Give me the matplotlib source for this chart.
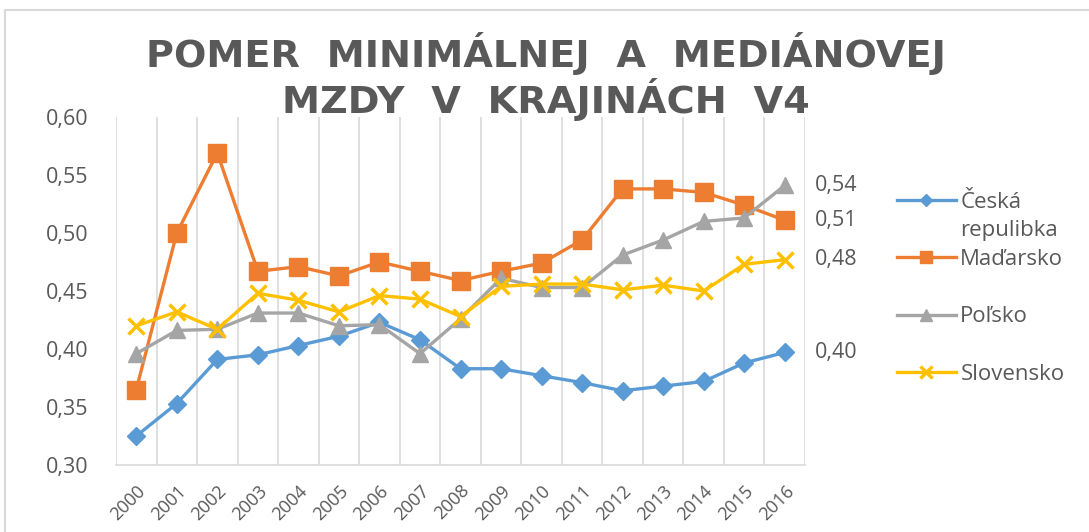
import numpy as np
import matplotlib
matplotlib.use("Agg")
import matplotlib.pyplot as plt
from matplotlib.patches import Rectangle

# ---- data ----
years = [str(y) for y in range(2000, 2017)]
ceska = [0.325, 0.353, 0.391, 0.395, 0.403, 0.411, 0.423, 0.408, 0.383, 0.383,
         0.377, 0.371, 0.364, 0.368, 0.372, 0.388, 0.397]
madarsko = [0.365, 0.500, 0.569, 0.467, 0.471, 0.463, 0.475, 0.467, 0.459, 0.467,
            0.474, 0.494, 0.538, 0.538, 0.535, 0.524, 0.511]
polsko = [0.396, 0.416, 0.417, 0.431, 0.431, 0.420, 0.421, 0.396, 0.426, 0.461,
          0.453, 0.453, 0.481, 0.494, 0.510, 0.513, 0.541]
slovensko = [0.420, 0.432, 0.417, 0.448, 0.442, 0.432, 0.446, 0.443, 0.428, 0.454,
             0.456, 0.456, 0.451, 0.455, 0.450, 0.473, 0.477]
series_names = ["Česká", "Maďarsko", "Poľsko", "Slovensko"]
yticks = [0.30, 0.35, 0.40, 0.45, 0.50, 0.55, 0.60]
title_lines = ["POMER  MINIMÁLNEJ  A  MEDIÁNOVEJ", "MZDY  V  KRAJINÁCH  V4"]

TXT = "#595959"
GRID = "#D9D9D9"
FONT = "Open Sans"

W, H = 1089, 532
fig = plt.figure(figsize=(W / 100, H / 100), dpi=100)
fig.patch.set_facecolor("white")

# outer chart border
fig.add_artist(Rectangle((5 / W, -0.2), 2.0, (H - 10) / H + 0.2,
                         transform=fig.transFigure, fill=False,
                         edgecolor=GRID, lw=1.5))

ax = fig.add_axes([116 / W, 1 - 465 / H, (805 - 116) / W, (465 - 117) / H])
x = np.arange(len(years))

styles = [
    dict(color="#5B9BD5", marker="D", ms=9),
    dict(color="#ED7D31", marker="s", ms=13),
    dict(color="#A5A5A5", marker="^", ms=12),
    dict(color="#FFC000", marker="x", ms=12, mew=2.5),
]
data = [ceska, madarsko, polsko, slovensko]
for vals, name, st in zip(data, series_names, styles):
    ax.plot(x, vals, lw=2.4, label=name, clip_on=False, **st)
    ax.annotate(f"{vals[-1]:.2f}".replace(".", ","), (x[-1], vals[-1]),
                xytext=(22, 0), textcoords="offset points", ha="left",
                va="center", fontsize=15.5, color=TXT, family=FONT,
                annotation_clip=False)

ax.set_xlim(-0.5, len(years) - 0.5)
ax.set_ylim(0.30, 0.60)
ax.set_xticks(x)
ax.set_xticklabels(years, rotation=45, ha="right", rotation_mode="anchor",
                   fontsize=13, color=TXT, family=FONT)
ax.set_xticks(np.arange(-0.5, len(years), 1), minor=True)
ax.set_yticks(yticks)
ax.set_yticklabels([f"{v:.2f}".replace(".", ",") for v in yticks],
                   fontsize=15.5, color=TXT, family=FONT)
ax.tick_params(axis="x", which="both", length=0, pad=12)
ax.tick_params(axis="y", which="both", length=0, pad=20)
ax.grid(False)
ax.grid(which="minor", axis="x", color=GRID, lw=1.2)
ax.set_axisbelow(True)
for s in ["top", "right", "left"]:
    ax.spines[s].set_visible(False)
ax.spines["bottom"].set_color(GRID)
ax.spines["bottom"].set_linewidth(1.2)

leg = ax.legend(loc="upper left", bbox_to_anchor=(897 / W, 1 - 192 / H),
                bbox_transform=fig.transFigure, frameon=False,
                prop={"family": FONT, "size": 16}, labelcolor=TXT,
                handlelength=2.65, handletextpad=0.2, labelspacing=1.63,
                borderpad=0, borderaxespad=0, markerscale=0.7)

for i, t in enumerate(title_lines):
    fig.text(0.501, 1 - (67 + 46 * i) / H, t, ha="center", va="baseline",
             fontsize=27.5, fontweight="bold", color=TXT, family="DejaVu Sans")

# second line of the first legend label
fig.canvas.draw()
bb = leg.texts[0].get_window_extent()
fig.text(bb.x0 / W, (bb.y0 - 28) / H, "repulibka", ha="left",
         va="bottom", fontsize=16, color=TXT, family=FONT)

fig.savefig("out.png", dpi=100)
